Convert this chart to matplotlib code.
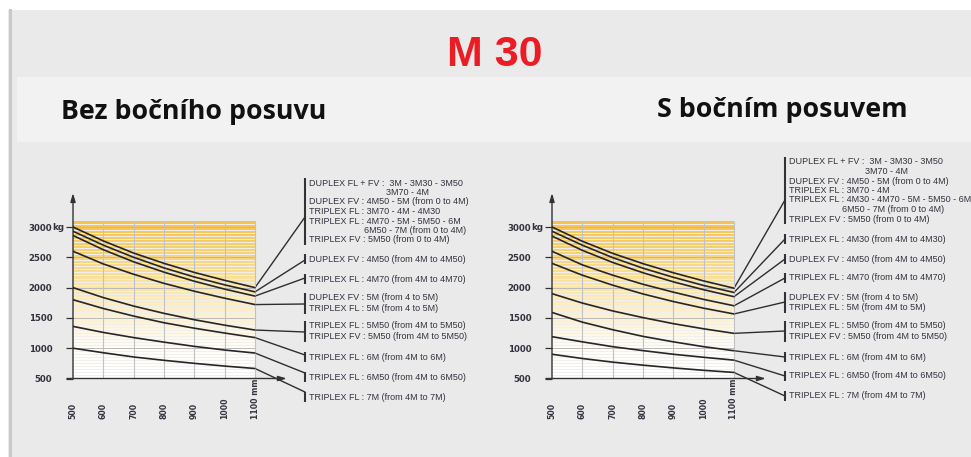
import numpy as np
import matplotlib
matplotlib.use('Agg')
import matplotlib.pyplot as plt
from matplotlib.patches import Rectangle, ConnectionPatch
from matplotlib.colors import LinearSegmentedColormap
from matplotlib import font_manager

### DATA ###
load_centres = [500, 600, 700, 800, 900, 1000, 1100]
x_tick_labels = ['500', '600', '700', '800', '900', '1000', '1100 mm']
y_ticks = [500, 1000, 1500, 2000, 2500, 3000]

# bez bocniho posuvu (kg at each load centre)
left_curves = [
    [3000, 2770, 2570, 2400, 2250, 2120, 2000],
    [2930, 2700, 2500, 2325, 2175, 2045, 1930],
    [2860, 2625, 2425, 2255, 2105, 1975, 1860],
    [2600, 2390, 2220, 2070, 1940, 1825, 1720],
    [2000, 1835, 1695, 1575, 1470, 1380, 1300],
    [1800, 1655, 1530, 1420, 1330, 1250, 1175],
    [1360, 1260, 1175, 1100, 1030, 970, 920],
    [1000, 925, 855, 800, 750, 705, 665],
]
# s bocnim posuvem
right_curves = [
    [3000, 2765, 2565, 2395, 2245, 2110, 1990],
    [2930, 2700, 2495, 2320, 2170, 2035, 1920],
    [2850, 2615, 2415, 2245, 2095, 1965, 1850],
    [2600, 2375, 2205, 2055, 1925, 1805, 1700],
    [2400, 2205, 2040, 1895, 1770, 1660, 1565],
    [1900, 1745, 1615, 1505, 1405, 1320, 1245],
    [1590, 1430, 1305, 1195, 1105, 1025, 958],
    [1190, 1105, 1025, 960, 900, 850, 803],
    [900, 830, 770, 720, 675, 635, 600],
]

left_groups = [
    ['DUPLEX FL + FV :  3M - 3M30 - 3M50', '3M70 - 4M',
     'DUPLEX FV : 4M50 - 5M (from 0 to 4M)', 'TRIPLEX FL : 3M70 - 4M - 4M30',
     'TRIPLEX FL : 4M70 - 5M - 5M50 - 6M', '6M50 - 7M (from 0 to 4M)',
     'TRIPLEX FV : 5M50 (from 0 to 4M)'],
    ['DUPLEX FV : 4M50 (from 4M to 4M50)'],
    ['TRIPLEX FL : 4M70 (from 4M to 4M70)'],
    ['DUPLEX FV : 5M (from 4 to 5M)', 'TRIPLEX FL : 5M (from 4 to 5M)'],
    ['TRIPLEX FL : 5M50 (from 4M to 5M50)', 'TRIPLEX FV : 5M50 (from 4M to 5M50)'],
    ['TRIPLEX FL : 6M (from 4M to 6M)'],
    ['TRIPLEX FL : 6M50 (from 4M to 6M50)'],
    ['TRIPLEX FL : 7M (from 4M to 7M)'],
]
right_groups = [
    ['DUPLEX FL + FV :  3M - 3M30 - 3M50', '3M70 - 4M',
     'DUPLEX FV : 4M50 - 5M (from 0 to 4M)', 'TRIPLEX FL : 3M70 - 4M',
     'TRIPLEX FL : 4M30 - 4M70 - 5M - 5M50 - 6M', '6M50 - 7M (from 0 to 4M)',
     'TRIPLEX FV : 5M50 (from 0 to 4M)'],
    ['TRIPLEX FL : 4M30 (from 4M to 4M30)'],
    ['DUPLEX FV : 4M50 (from 4M to 4M50)'],
    ['TRIPLEX FL : 4M70 (from 4M to 4M70)'],
    ['DUPLEX FV : 5M (from 4 to 5M)', 'TRIPLEX FL : 5M (from 4M to 5M)'],
    ['TRIPLEX FL : 5M50 (from 4M to 5M50)', 'TRIPLEX FV : 5M50 (from 4M to 5M50)'],
    ['TRIPLEX FL : 6M (from 4M to 6M)'],
    ['TRIPLEX FL : 6M50 (from 4M to 6M50)'],
    ['TRIPLEX FL : 7M (from 4M to 7M)'],
]

### LAYOUT (pixels) ###
W, H = 971, 457
SX = 182 / 600.0     # px per mm
SY = 151.5 / 2500.0  # px per kg


def pick_font(names):
    for n in names:
        try:
            font_manager.findfont(font_manager.FontProperties(family=n), fallback_to_default=False)
            return n
        except ValueError:
            continue
    return 'DejaVu Sans'


NARROW = pick_font(['Liberation Sans Narrow', 'Liberation Sans', 'DejaVu Sans'])
HEAD = pick_font(['Open Sans', 'Lato', 'DejaVu Sans'])
INK = '#34323f'

fig = plt.figure(figsize=(W / 100, H / 100), dpi=100)
fig.patch.set_facecolor('white')

bg = fig.add_axes([0, 0, 1, 1], zorder=0)
bg.set_xlim(0, W)
bg.set_ylim(H, 0)
bg.axis('off')
bg.add_patch(Rectangle((8, 10), W - 8, H - 10, color='#eaeaea', lw=0))
bg.add_patch(Rectangle((17, 77), W - 17, 65, color='#f2f2f2', lw=0))
bg.plot([9.5, 9.5], [10, H], color='#c9c9c9', lw=2.2)

bg.text(495, 66, 'M 30', color='#ec1c24', fontsize=31, fontweight='bold',
        family=[NARROW, 'DejaVu Sans'], ha='center', va='baseline')
bg.text(61, 119, 'Bez bočního posuvu', fontsize=19.3, fontweight='bold',
        family=[HEAD, 'DejaVu Sans'], ha='left', va='baseline', color='#111111')
bg.text(657, 117, 'S bočním posuvem', fontsize=19.3, fontweight='bold',
        family=[HEAD, 'DejaVu Sans'], ha='left', va='baseline', color='#111111')

grad = LinearSegmentedColormap.from_list(
    'fade', ['#ffffff', '#fffdf6', '#fdf1d2', '#fbe4a6', '#f8d275', '#f6c24c'])


def make_chart(x500, y3000):
    left = x500
    right = x500 + 800 * SX
    top = y3000 - 700 * SY
    bottom = y3000 + 2500 * SY
    ax = fig.add_axes([left / W, 1 - bottom / H, (right - left) / W, (bottom - top) / H], zorder=1)
    ax.set_xlim(500, 1300)
    ax.set_ylim(500, 3700)
    ax.patch.set_alpha(0)
    for s in ax.spines.values():
        s.set_visible(False)

    ramp = np.linspace(0, 1, 256).reshape(-1, 1)
    ax.imshow(ramp, extent=[500, 1100, 500, 3100], origin='lower', aspect='auto',
              cmap=grad, zorder=0)
    ax.hlines(np.arange(550, 3100, 50), 500, 1100, color='#f0f0f0', lw=0.7, zorder=1)
    ax.hlines(y_ticks[1:], 500, 1100, color='#b9b9b9', lw=0.7, zorder=1)
    ax.vlines(load_centres[1:], 500, 3100, color='#c2c2c2', lw=0.8, zorder=1)

    ax.annotate('', xy=(500, 3560), xytext=(500, 500), annotation_clip=False,
                arrowprops=dict(arrowstyle='-|>,head_length=0.5,head_width=0.15',
                                color='#333333', lw=1.0, shrinkA=0, shrinkB=0))
    ax.annotate('', xy=(1205, 500), xytext=(480, 500), annotation_clip=False,
                arrowprops=dict(arrowstyle='-|>,head_length=0.5,head_width=0.15',
                                color='#333333', lw=1.0, shrinkA=0, shrinkB=0))

    ax.set_xticks([])
    ax.set_yticks(y_ticks)
    ax.set_yticklabels([str(v) for v in y_ticks])
    ax.tick_params(axis='y', length=5, width=0.9, color='#333333', pad=10,
                   labelsize=6.2, labelcolor=INK)
    for t in ax.get_yticklabels():
        t.set_fontweight('bold')
    ax.annotate('kg', xy=(500, 3000), xytext=(-15.2, 0), textcoords='offset points',
                ha='left', va='center', fontsize=6.2, fontweight='bold', color=INK,
                annotation_clip=False)
    for v, lbl in zip(load_centres, x_tick_labels):
        ax.annotate(lbl, xy=(v, 500), xytext=(0, -29.5), textcoords='offset points',
                    rotation=90, ha='center', va='bottom', fontsize=5.6,
                    fontweight='bold', color=INK, annotation_clip=False)
    return ax


def draw_labels(ax, curves, groups, first_y, indents, targets, bx):
    for ci, (curve, lines, y0, tgt) in enumerate(zip(curves, groups, first_y, targets)):
        ax.plot(load_centres, curve, color='#262626', lw=1.2, zorder=3,
                solid_capstyle='round')
        step = 9.5 if len(lines) > 2 else 10.5
        ys = [y0 + i * step for i in range(len(lines))]
        for i, (txt, y) in enumerate(zip(lines, ys)):
            dx = indents[i] if ci == 0 else 0
            bg.text(bx + 4 + dx, y, txt, fontsize=6.45, family=[NARROW, 'DejaVu Sans'],
                    color=INK, ha='left', va='center')
        bg.plot([bx, bx], [ys[0] - 5, ys[-1] + 5], color='#333333', lw=1.5,
                solid_capstyle='butt')
        con = ConnectionPatch(xyA=(load_centres[-1], curve[-1]), coordsA=ax.transData,
                              xyB=(bx, tgt), coordsB=bg.transData,
                              color='#2e2e2e', lw=1.0)
        fig.add_artist(con)


ax_l = make_chart(73, 227)
ax_r = make_chart(552, 227)

draw_labels(ax_l, left_curves, left_groups,
            [183, 259, 279, 298, 326, 357, 377, 397],
            [0, 77, 0, 0, 0, 55, 0],
            [217, 260, 278, 304, 332, 355, 373, 392], 305)
draw_labels(ax_r, right_curves, right_groups,
            [162, 239, 259, 278, 297, 326, 357, 376, 396],
            [0, 76, 0, 0, 0, 53, 0],
            [200, 239, 259, 278, 302, 331, 357, 376, 396], 785)

fig.savefig('out.png', dpi=100, facecolor=fig.get_facecolor())
